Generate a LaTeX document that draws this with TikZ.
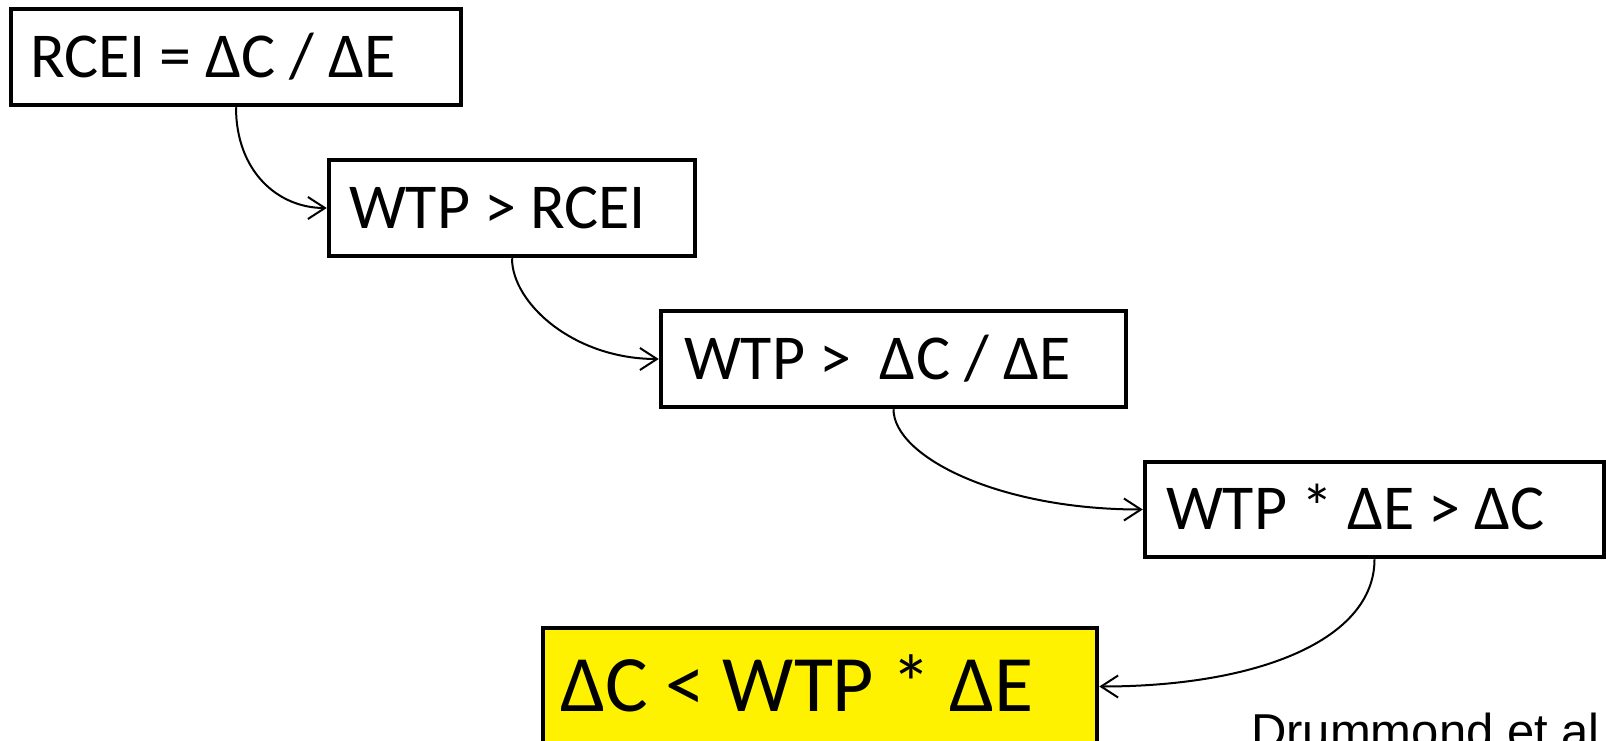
\documentclass[tikz,border=0pt]{standalone}
\usepackage{fontspec}
\setmainfont{Carlito}
\newfontfamily\arialf{Liberation Sans}
\usetikzlibrary{arrows.meta}
\tikzset{
  box/.style={draw, line width=4.5pt, rectangle, minimum height=96pt, align=left,
    text height=40.4pt, text depth=0pt, inner ysep=0pt,
    font=\fontsize{64}{70}\selectfont,
    execute at begin node={\spaceskip=0.22em\relax}},
  hibox/.style={box, fill=yellow, minimum height=117pt, text height=50.6pt,
    font=\fontsize{80}{88}\selectfont},
  conn/.style={line width=2pt, -{Straight Barb[length=17pt,width=22pt]}},
  cite/.style={font=\arialf\fontsize{49}{55}\selectfont, anchor=base west, inner sep=0pt}
}
\begin{document}
\begin{tikzpicture}[x=1pt,y=-1pt]
\useasboundingbox (0,0) rectangle (1606,741);
\node[box, inner xsep=19pt, text width=412pt, minimum width=450pt] (b1) at (236,57) {RCEI = ΔC / ΔE};
\node[box, inner xsep=20pt, text width=326pt, minimum width=366pt] (b2) at (512,208) {WTP > RCEI};
\node[box, inner xsep=23pt, text width=419pt, minimum width=465pt] (b3) at (893.5,359) {\mbox{WTP >\hspace{0.45em}ΔC / ΔE}};
\node[box, inner xsep=21pt, text width=417pt, minimum width=459pt, minimum height=95pt] (b4) at (1374.5,509.5) {WTP * ΔE > ΔC};
\node[hibox, inner xsep=17pt, text width=520pt, minimum width=554pt] (res) at (820,686.5) {ΔC < WTP * ΔE};
\node[cite] (ref) at (1251,748) {Drummond et al};
\draw[conn] (b1.south) .. controls +(0,64) and +(-49,0) .. (b2.west);
\draw[conn] (b2.south) .. controls +(0,45) and +(-85,0) .. (b3.west);
\draw[conn] (b3.south) .. controls +(0,47) and +(-145,0) .. (b4.west);
\draw[conn] (b4.south) .. controls +(0,80) and +(160,0) .. (res.east);
\end{tikzpicture}
\end{document}
